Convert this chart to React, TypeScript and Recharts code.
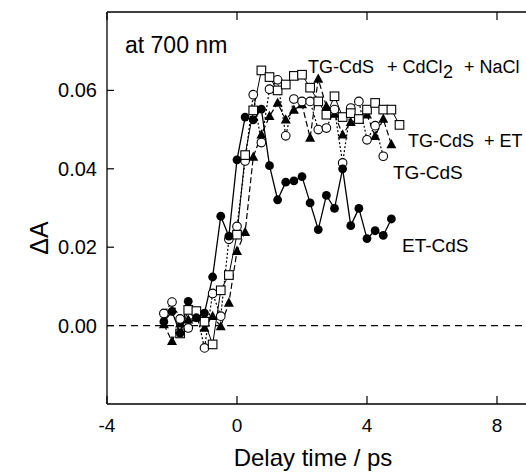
import { Line, LineChart, ReferenceLine, XAxis, YAxis } from "recharts";

const times = [-2.25, -2, -1.75, -1.5, -1.25, -1, -0.75, -0.5, -0.25, 0, 0.25, 0.5, 0.75, 1, 1.25, 1.5, 1.75, 2, 2.25, 2.5, 2.75, 3, 3.25, 3.5, 3.75, 4, 4.25, 4.5, 4.75, 5];

const etCdS = [0.001, 0.0036, -0.0019, 0.0062, 0.002, 0.0032, 0.0124, 0.0279, 0.0228, 0.0423, 0.0532, 0.0525, 0.0552, 0.0408, 0.0321, 0.0366, 0.0369, 0.038, 0.0313, 0.0245, 0.0332, 0.0299, 0.04, 0.0255, 0.0299, 0.0222, 0.0242, 0.023, 0.0272, null];
const tgCdS = [0.0031, 0.006, 0.0017, -0.0006, 0.0034, -0.0057, 0.0082, 0.0024, 0.022, 0.0253, 0.042, 0.0589, 0.0467, 0.0603, 0.0627, 0.0484, 0.0578, 0.0572, 0.0572, 0.05, 0.0504, 0.0551, 0.0415, 0.0555, 0.0572, 0.0474, 0.051, 0.0432, null, null];
const tgEt = [0.0003, -0.004, 0.0005, 0.0015, 0.002, -0.0006, 0.0024, -0.0002, 0.0058, 0.019, 0.0238, 0.043, 0.0487, 0.0534, 0.0568, 0.0525, 0.055, 0.0564, 0.0479, 0.0629, 0.0559, 0.054, 0.0487, 0.0519, 0.0525, 0.0538, 0.0483, 0.0527, 0.0462, null];
const tgCdCl = [null, null, -0.002, 0.004, 0.0037, 0.001, -0.0048, 0.009, 0.0129, 0.0232, 0.0435, 0.0549, 0.0651, 0.0634, 0.06, 0.0615, 0.0637, 0.064, 0.0607, 0.0572, 0.0538, 0.0585, 0.0532, 0.0542, 0.0527, 0.0551, 0.0568, 0.0551, 0.0551, 0.0512];

const xTicks = [-4, 0, 4, 8];
const yTicks = [0, 0.02, 0.04, 0.06];

const rows = times.map((t, i) => ({ t, et: etCdS[i], tg: tgCdS[i], tgEt: tgEt[i], tgCd: tgCdCl[i] }));

const FONT = "'Liberation Sans', Arial, Helvetica, sans-serif";

const ok = (p: any) => p.cx != null && p.cy != null && p.value != null && !Number.isNaN(p.cy);

const FilledCircle = (p: any) => (ok(p) ? <circle key={`fc${p.index}`} cx={p.cx} cy={p.cy} r={4.4} fill="#000" /> : <g key={`fc${p.index}`} />);
const OpenCircle = (p: any) => (ok(p) ? <circle key={`oc${p.index}`} cx={p.cx} cy={p.cy} r={4.3} fill="#fff" stroke="#000" strokeWidth={1.1} /> : <g key={`oc${p.index}`} />);
const OpenSquare = (p: any) =>
  ok(p) ? <rect key={`sq${p.index}`} x={p.cx - 4.3} y={p.cy - 4.3} width={8.6} height={8.6} fill="#fff" stroke="#000" strokeWidth={1.1} /> : <g key={`sq${p.index}`} />;
const Triangle = (p: any) =>
  ok(p) ? (
    <polygon key={`tr${p.index}`} points={`${p.cx},${p.cy - 5.5} ${p.cx - 5},${p.cy + 3.8} ${p.cx + 5},${p.cy + 3.8}`} fill="#000" />
  ) : (
    <g key={`tr${p.index}`} />
  );

const BottomTick = ({ x, y, payload }: any) => (
  <g>
    <line x1={x} y1={y} x2={x} y2={y - 8} stroke="#000" strokeWidth={1.2} />
    <text x={x} y={y + 28} textAnchor="middle" fontSize={19} fontFamily={FONT} fill="#000">
      {payload.value}
    </text>
  </g>
);

const TopTick = ({ x, y }: any) => <line x1={x} y1={y} x2={x} y2={y + 8} stroke="#000" strokeWidth={1.2} />;

const LeftTick = ({ x, y, payload }: any) => (
  <g>
    <line x1={x} y1={y} x2={x + 7} y2={y} stroke="#000" strokeWidth={1.2} />
    <text x={x - 10} y={y + 7} textAnchor="end" fontSize={20} fontFamily={FONT} fill="#000">
      {payload.value.toFixed(2)}
    </text>
  </g>
);

export default function App() {
  return (
    <div style={{ position: "absolute", left: 0, top: 0, width: 526, height: 472, overflow: "hidden", background: "#fff" }}>
      <LineChart width={600} height={472} data={rows} margin={{ top: 0, right: 38, bottom: 38, left: 47 }}>
        <XAxis
          dataKey="t"
          type="number"
          domain={[-4, 10]}
          ticks={xTicks}
          tickLine={false}
          tickSize={0}
          tickMargin={0}
          tick={<BottomTick />}
          axisLine={{ stroke: "#000", strokeWidth: 1.3 }}
          height={30}
          allowDataOverflow
        />
        <XAxis
          xAxisId="top"
          orientation="top"
          dataKey="t"
          type="number"
          domain={[-4, 10]}
          ticks={xTicks}
          tickLine={false}
          tickSize={0}
          tickMargin={0}
          tick={<TopTick />}
          axisLine={{ stroke: "#000", strokeWidth: 1.3 }}
          height={12}
        />
        <YAxis
          type="number"
          domain={[-0.02, 0.08]}
          ticks={yTicks}
          tickLine={false}
          tickSize={0}
          tickMargin={0}
          tick={<LeftTick />}
          axisLine={{ stroke: "#000", strokeWidth: 1.3 }}
          width={60}
          allowDataOverflow
        />
        <ReferenceLine y={0} stroke="#000" strokeWidth={1.2} strokeDasharray="7 5" />
        <Line dataKey="tgEt" stroke="#000" strokeWidth={1.2} strokeDasharray="6 3" dot={Triangle} isAnimationActive={false} />
        <Line dataKey="tg" stroke="#000" strokeWidth={1.2} strokeDasharray="2 2" dot={OpenCircle} isAnimationActive={false} />
        <Line dataKey="tgCd" stroke="#000" strokeWidth={1} dot={OpenSquare} isAnimationActive={false} />
        <Line dataKey="et" stroke="#000" strokeWidth={1.3} dot={FilledCircle} isAnimationActive={false} />
      </LineChart>
      <svg width={526} height={472} style={{ position: "absolute", left: 0, top: 0, pointerEvents: "none" }} fontFamily={FONT} fill="#000">
        <text x={125} y={53} fontSize={23}>at 700 nm</text>
        <text y={73} fontSize={18}>
          <tspan x={308}>TG-CdS</tspan>
          <tspan x={387}>+ CdCl</tspan>
          <tspan x={443} dy={5}>2</tspan>
          <tspan x={464} dy={-5}>+ NaCl</tspan>
        </text>
        <text y={147} fontSize={18}>
          <tspan x={408}>TG-CdS</tspan>
          <tspan x={484}>+ ET</tspan>
        </text>
        <text x={393} y={179} fontSize={19}>TG-CdS</text>
        <text x={402} y={252} fontSize={19}>ET-CdS</text>
        <text x={313} y={466} fontSize={24} textAnchor="middle">Delay time / ps</text>
        <text x={0} y={0} fontSize={25} textAnchor="middle" transform="translate(48 238) rotate(-90)">ΔA</text>
      </svg>
    </div>
  );
}
